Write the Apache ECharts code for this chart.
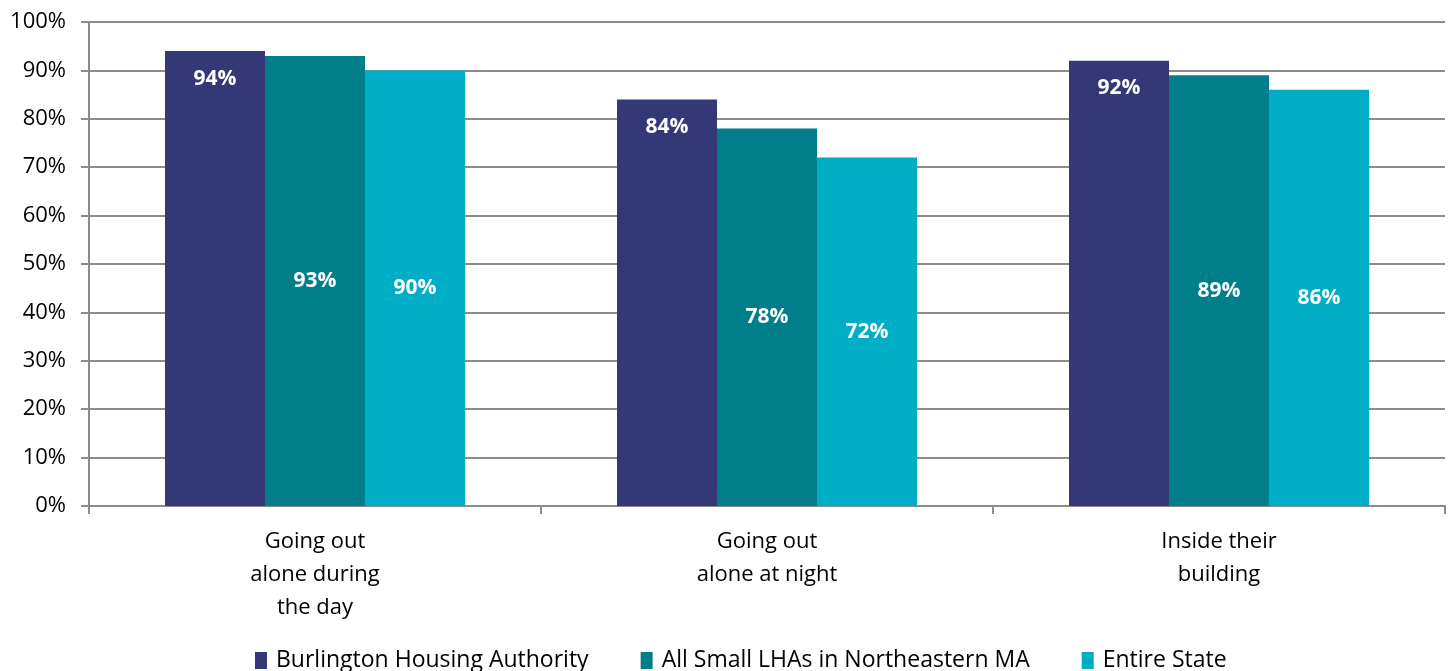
<!DOCTYPE html>
<html>
<head>
<meta charset="utf-8">
<script src="https://cdn.jsdelivr.net/npm/echarts@6/dist/echarts.min.js"></script>
<style>
  html, body { margin: 0; padding: 0; background: #fff; }
  #chart { width: 1450px; height: 671px; }
</style>
</head>
<body>
<div id="chart"></div>
<script>
// Chart data (values as printed on the bars)
const categories = ["Going out\nalone during\nthe day", "Going out\nalone at night", "Inside their\nbuilding"];
const seriesNames = ["Burlington Housing Authority", "All Small LHAs in Northeastern MA", "Entire State"];
const burlington = [94, 84, 92];
const smallLHAs = [93, 78, 89];
const entireState = [90, 72, 86];
const yTicks = [0, 10, 20, 30, 40, 50, 60, 70, 80, 90, 100];

const colors = ["#353876", "#007F8B", "#00ADC6"];
const FONT = "'Open Sans', 'Liberation Sans', sans-serif";

const chart = echarts.init(document.getElementById("chart"), null, { renderer: "canvas" });

const makeSeries = (name, data, idx) => ({
  name,
  type: "bar",
  data,
  barWidth: 100,
  barGap: "0%",
  itemStyle: { color: colors[idx] },
  label: {
    show: true,
    position: idx === 0 ? "insideTop" : "inside",
    distance: 17,
    color: "#fff",
    fontFamily: FONT,
    fontWeight: "bold",
    fontSize: 21,
    formatter: (p) => p.value + "%",
  },
});

chart.setOption({
  backgroundColor: "#ffffff",
  animation: false,
  color: colors,
  grid: { left: 89, right: 5, top: 22, bottom: 165, containLabel: false },
  legend: {
    data: seriesNames,
    top: 644,
    left: 250,
    itemGap: 52,
    itemWidth: 12,
    itemHeight: 17,
    icon: "rect",
    textStyle: { color: "#000", fontFamily: FONT, fontSize: 23, padding: [0, 0, 0, 4] },
  },
  xAxis: {
    type: "category",
    data: categories,
    axisLine: { lineStyle: { color: "#8c8c8c", width: 2 } },
    axisTick: { show: true, length: 8, lineStyle: { color: "#8c8c8c", width: 2 } },
    axisLabel: {
      color: "#000",
      fontFamily: FONT,
      fontSize: 22,
      lineHeight: 33,
      margin: 19,
    },
  },
  yAxis: {
    type: "value",
    min: 0,
    max: 100,
    interval: 10,
    axisLine: { show: true, lineStyle: { color: "#8c8c8c", width: 2 } },
    axisTick: { show: true, length: 8, lineStyle: { color: "#8c8c8c", width: 2 } },
    splitLine: { lineStyle: { color: "#8c8c8c", width: 2 } },
    axisLabel: {
      color: "#000",
      fontFamily: FONT,
      fontSize: 22,
      margin: 23,
      formatter: (v) => (yTicks.includes(v) ? v + "%" : ""),
    },
  },
  series: [
    makeSeries(seriesNames[0], burlington, 0),
    makeSeries(seriesNames[1], smallLHAs, 1),
    makeSeries(seriesNames[2], entireState, 2),
  ],
});
</script>
</body>
</html>
